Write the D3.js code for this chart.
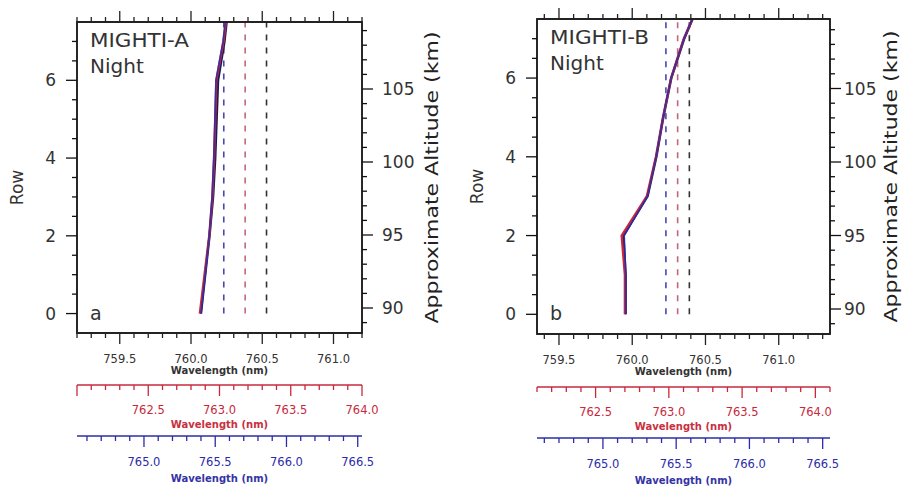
<!DOCTYPE html>
<html>
<head>
<meta charset="utf-8">
<script src="https://cdn.jsdelivr.net/npm/d3@7"></script>
<style>
  html, body { margin: 0; padding: 0; background: #fff; }
  svg { display: block; }
  text { font-family: "DejaVu Sans", "Liberation Sans", sans-serif; }
</style>
</head>
<body>
<svg id="chart" width="923" height="486"></svg>
<script>
// ---------------- data ----------------
const rows = [0, 1, 2, 3, 4, 5, 6, 7, 7.5];

// Panel a (MIGHTI-A, Night) - fitted line centre wavelength per row (nm, black scale)
const aBlack = [760.07, 760.10, 760.13, 760.155, 760.17, 760.18, 760.19, 760.235, 760.25];
const aRed   = [760.062, 760.095, 760.128, 760.15, 760.162, 760.17, 760.178, 760.228, 760.245];
const aBlue  = [760.07, 760.10, 760.128, 760.148, 760.16, 760.168, 760.175, 760.225, 760.24];
const aDashed = { blue: 760.23, red: 760.38, black: 760.53 };

// Panel b (MIGHTI-B, Night)
const bBlack = [759.955, 759.955, 759.94, 760.105, 760.165, 760.212, 760.267, 760.355, 760.412];
const bRed   = [759.95, 759.95, 759.928, 760.1, 760.162, 760.21, 760.265, 760.352, 760.41];
const bBlue  = [759.956, 759.956, 759.945, 760.104, 760.163, 760.21, 760.265, 760.353, 760.41];
const bDashed = { blue: 760.23, red: 760.31, black: 760.39 };

// axis ranges / tick labels
const rowDomain = [-0.5, 7.5];
const rowTicks = [0, 2, 4, 6];
const altTicks = [90, 95, 100, 105];
const blackTicksLbl = [759.5, 760.0, 760.5, 761.0];
const redTicksLbl = [762.5, 763.0, 763.5, 764.0];
const blueTicksLbl = [765.0, 765.5, 766.0, 766.5];

const panels = [
  { id: "a", title1: "MIGHTI-A", title2: "Night",
    left: 77, right: 362, top: 22, bottom: 333,
    xDom: [759.2, 761.2], redDom: [762.0, 764.0], blueDom: [764.53, 766.53],
    alt90: 308, altPx: 14.6, redY: 385, blueY: 436, altLbl: 20, altTitle: 76,
    black: aBlack, red: aRed, blue: aBlue, dashed: aDashed },
  { id: "b", title1: "MIGHTI-B", title2: "Night",
    left: 537, right: 830, top: 19, bottom: 334,
    xDom: [759.35, 761.35], redDom: [762.1, 764.1], blueDom: [764.55, 766.55],
    alt90: 309, altPx: 14.7, redY: 387, blueY: 438, altLbl: 14, altTitle: 67,
    black: bBlack, red: bRed, blue: bBlue, dashed: bDashed }
];

const cBlack = "#222", cRed = "#c8283c", cBlue = "#2c2ca8";
const cRedTxt = "#c83040", cBlueTxt = "#3434a4";
const svg = d3.select("#chart");

function range(a, b, step) {
  const out = []; const n = Math.round((b - a) / step);
  for (let i = 0; i <= n; i++) out.push(+(a + i * step).toFixed(4));
  return out;
}

function hAxis(g, scale, y, dir, color, majors, showLabels, lblY) {
  const [d0, d1] = scale.domain();
  g.append("line").attr("x1", scale.range()[0]).attr("x2", scale.range()[1])
    .attr("y1", y).attr("y2", y).attr("stroke", color).attr("stroke-width", 1.6);
  const ticks = range(Math.ceil(d0 * 10 - 1e-6) / 10, Math.floor(d1 * 10 + 1e-6) / 10, 0.1);
  ticks.forEach(t => {
    const isMaj = Math.abs(t * 2 - Math.round(t * 2)) < 1e-6;
    const len = isMaj ? 11 : 5;
    g.append("line").attr("x1", scale(t)).attr("x2", scale(t))
      .attr("y1", y).attr("y2", y + dir * len).attr("stroke", color).attr("stroke-width", 1.3);
  });
  if (showLabels) {
    majors.forEach(t => {
      g.append("text").attr("x", scale(t)).attr("y", lblY).attr("text-anchor", "middle")
        .attr("font-size", 11.5).attr("fill", color === cBlack ? "#333" : color)
        .text(t.toFixed(1));
    });
  }
}

panels.forEach(p => {
  const g = svg.append("g");
  const x = d3.scaleLinear().domain(p.xDom).range([p.left, p.right]);
  const y = d3.scaleLinear().domain(rowDomain).range([p.bottom, p.top]);
  const altTop = 90 + (p.alt90 - p.top) / p.altPx;
  const altBot = 90 - (p.bottom - p.alt90) / p.altPx;
  const alt = d3.scaleLinear().domain([altBot, altTop]).range([p.bottom, p.top]);
  const xr = d3.scaleLinear().domain(p.redDom).range([p.left, p.right]);
  const xb = d3.scaleLinear().domain(p.blueDom).range([p.left, p.right]);
  const cx = (p.left + p.right) / 2;

  // dashed reference lines
  [["blue", "#4848b0"], ["red", "#c06878"], ["black", "#333"]].forEach(([k, col]) => {
    g.append("line").attr("x1", x(p.dashed[k])).attr("x2", x(p.dashed[k]))
      .attr("y1", y(0)).attr("y2", y(7.5))
      .attr("stroke", col).attr("stroke-width", 1.6).attr("stroke-dasharray", "6,7");
  });

  // solid profiles
  const line = d3.line().x(d => x(d[0])).y(d => y(d[1]));
  [[p.black, "#1a1a50", 2.4, 1], [p.red, cRed, 2.4, 1], [p.blue, cBlue, 1.7, 0.85]].forEach(([vals, col, w, op]) => {
    g.append("path").datum(vals.map((v, i) => [v, rows[i]]))
      .attr("d", line).attr("fill", "none").attr("stroke", col)
      .attr("stroke-width", w).attr("stroke-opacity", op).attr("stroke-linejoin", "round");
  });

  // frame
  g.append("rect").attr("x", p.left).attr("y", p.top)
    .attr("width", p.right - p.left).attr("height", p.bottom - p.top)
    .attr("fill", "none").attr("stroke", "#111").attr("stroke-width", 1.8);

  // bottom (black) and top axes
  hAxis(g, x, p.bottom, 1, cBlack, blackTicksLbl, true, p.bottom + 30);
  hAxis(g, x, p.top, -1, cBlack, [], false, 0);
  g.append("text").attr("x", cx).attr("y", p.bottom + 41).attr("text-anchor", "middle")
    .attr("font-size", 10).attr("font-weight", "bold").attr("fill", "#333").text("Wavelength (nm)");

  // red axis
  hAxis(g, xr, p.redY, 1, cRed, redTicksLbl, true, p.redY + 29);
  g.append("text").attr("x", cx).attr("y", p.redY + 43).attr("text-anchor", "middle")
    .attr("font-size", 10).attr("font-weight", "bold").attr("fill", cRedTxt).text("Wavelength (nm)");

  // blue axis
  hAxis(g, xb, p.blueY, 1, cBlue, blueTicksLbl, true, p.blueY + 30);
  g.append("text").attr("x", cx).attr("y", p.blueY + 46).attr("text-anchor", "middle")
    .attr("font-size", 10).attr("font-weight", "bold").attr("fill", cBlueTxt).text("Wavelength (nm)");

  // left row axis ticks
  range(-0.5, 7.5, 0.5).forEach(t => {
    if (t < -0.4 || t > 7.4) return;
    const maj = rowTicks.includes(t);
    g.append("line").attr("x1", p.left).attr("x2", p.left - (maj ? 11 : 5))
      .attr("y1", y(t)).attr("y2", y(t)).attr("stroke", "#111").attr("stroke-width", 1.3);
  });
  rowTicks.forEach(t => {
    g.append("text").attr("x", p.left - 21).attr("y", y(t) + 6).attr("text-anchor", "end")
      .attr("font-size", 17).attr("fill", "#333").text(t);
  });
  g.append("text").attr("transform", `translate(${p.left - 54},${(p.top + p.bottom) / 2 + 10}) rotate(-90)`)
    .attr("text-anchor", "middle").attr("font-size", 17).attr("fill", "#333").text("Row");

  // right altitude axis
  d3.range(Math.ceil(altBot), Math.floor(altTop) + 1).forEach(t => {
    const maj = altTicks.includes(t);
    g.append("line").attr("x1", p.right).attr("x2", p.right + (maj ? 11 : 5))
      .attr("y1", alt(t)).attr("y2", alt(t)).attr("stroke", "#111").attr("stroke-width", 1.3);
  });
  altTicks.forEach(t => {
    g.append("text").attr("x", p.right + p.altLbl).attr("y", alt(t) + 6).attr("text-anchor", "start")
      .attr("font-size", 17).attr("fill", "#333").text(t);
  });
  g.append("text").attr("transform", `translate(${p.right + p.altTitle},${(p.top + p.bottom) / 2}) rotate(-90)`)
    .attr("text-anchor", "middle").attr("font-size", 17.5).attr("fill", "#222")
    .attr("textLength", 292).attr("lengthAdjust", "spacingAndGlyphs")
    .text("Approximate Altitude (km)");

  // panel annotations
  g.append("text").attr("x", p.left + 13).attr("y", p.top + 25).attr("font-size", 20)
    .attr("fill", "#333").attr("textLength", 99).attr("lengthAdjust", "spacingAndGlyphs").text(p.title1);
  g.append("text").attr("x", p.left + 13).attr("y", p.top + 51).attr("font-size", 20)
    .attr("fill", "#333").text(p.title2);
  g.append("text").attr("x", p.left + 13).attr("y", y(0) + 6).attr("font-size", 19)
    .attr("fill", "#333").text(p.id);
});
</script>
</body>
</html>
